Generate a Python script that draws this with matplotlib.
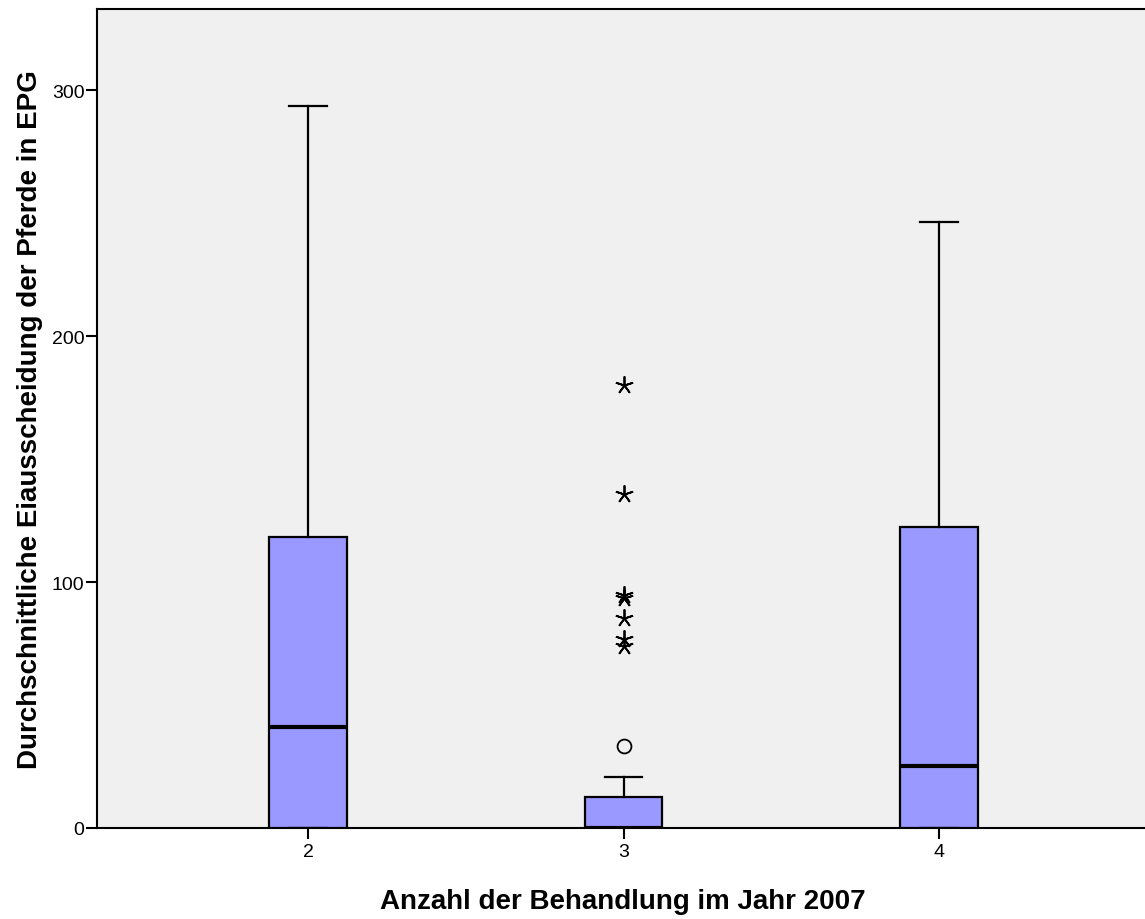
import matplotlib
matplotlib.use("Agg")
import matplotlib.pyplot as plt

plt.rcParams['font.family'] = ['Liberation Sans', 'DejaVu Sans']

categories = ["2", "3", "4"]
whisker_low = [0, 0, 0]
q1 = [0, 0, 0]
median = [41, 0, 25.2]
q3 = [118.3, 12.6, 122.4]
whisker_high = [293.5, 20.7, 246.3]
# outliers for group "3"
circle_outliers = [33.3]
extreme_outliers = [180.0, 135.8, 94.6, 93.4, 85.4, 76.8, 74.0]

fig = plt.figure(figsize=(11.45, 9.2), dpi=100)
ax = fig.add_axes([97/1145, 1-829/920, 1-97/1145, (829-10)/920])
ax.set_facecolor('#F0F0F0')

stats = []
for i, c in enumerate(categories):
    stats.append(dict(label=c, whislo=whisker_low[i], q1=q1[i], med=median[i],
                      q3=q3[i], whishi=whisker_high[i], fliers=[]))

positions = [1, 2, 3]
ax.bxp(stats, positions=positions, widths=0.247, patch_artist=True,
       showfliers=False,
       boxprops=dict(facecolor='#9999FF', edgecolor='black', linewidth=1.6),
       medianprops=dict(color='black', linewidth=3),
       whiskerprops=dict(color='black', linewidth=1.6),
       capprops=dict(color='black', linewidth=1.6),
       capwidths=0.12, zorder=3)

ax.plot([positions[1]]*len(circle_outliers), circle_outliers, linestyle='none',
        marker='o', markersize=10, markerfacecolor='none', markeredgecolor='black',
        markeredgewidth=1.3, zorder=4)
ax.plot([positions[1]]*len(extreme_outliers), extreme_outliers, linestyle='none',
        marker=(5, 2, 0), markersize=13, color='black', markeredgewidth=1.3, zorder=4)

ax.set_xlim(0.331, 3.653)
ax.set_ylim(0, 333)
ax.set_yticks([0, 100, 200, 300])
ax.set_xticks(positions)
ax.set_xticklabels(categories)
ax.tick_params(axis='both', labelsize=14, length=8, width=1.5, direction='out', pad=1)
ax.tick_params(axis='x', pad=3)
for s in ['left', 'bottom', 'top']:
    ax.spines[s].set_linewidth(1.5)
ax.spines['right'].set_visible(False)

ax.set_xlabel('Anzahl der Behandlung im Jahr 2007', fontsize=20, fontweight='bold',
              va='center', ha='center')
ax.xaxis.set_label_coords(0.502, -0.0891)
ax.set_ylabel('Durchschnittliche Eiausscheidung der Pferde in EPG', fontsize=20,
              fontweight='bold', va='center', ha='center')
ax.yaxis.set_label_coords(-0.0639, 0.5)

fig.savefig('out.png', dpi=100)
